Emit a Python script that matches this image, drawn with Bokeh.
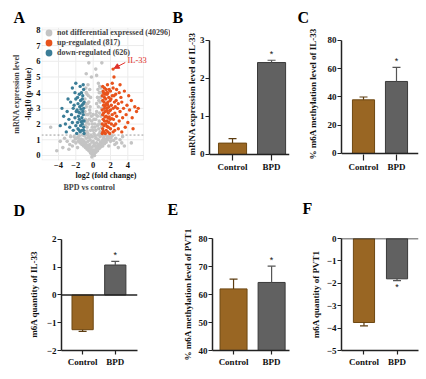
import math
from bokeh.plotting import figure
from bokeh.layouts import row, column
from bokeh.models import (Range1d, FixedTicker, Label, Legend, LegendItem, Span, Arrow, NormalHead,
                          BoxAnnotation, Title)
from bokeh.embed import file_html
from bokeh.resources import INLINE

FONT = "Liberation Serif"

# ---------------- Panel A data (volcano) ----------------
ns_pts = [(-0.1,0.05),(0.1,0.1),(0.0,0.2),(-0.3,0.15),(0.3,0.2),(-0.5,0.3),(0.5,0.3),(-0.7,0.4),(0.7,0.45),
          (-0.9,0.5),(0.9,0.55),(-1.1,0.6),(1.1,0.6),(-1.3,0.7),(1.3,0.75),(-1.5,0.8),(1.5,0.85),(-1.7,0.9),
          (1.7,1.0),(-1.9,1.1),(1.9,1.15),(-2.2,1.2),(2.2,1.25),(-0.2,0.5),(0.2,0.6),(-0.4,0.7),(0.4,0.8),
          (-0.6,0.9),(0.6,1.0),(-0.8,1.1),(0.8,1.2),(0.0,0.9),(-0.1,1.2),(0.1,1.4),(-1.2,1.0),(1.2,1.1),
          (-1.6,1.25),(1.6,1.2),(-2.6,1.2),(2.6,1.1),(-3.0,0.9),(3.1,1.0),(-2.4,0.6),(2.5,0.7),(-3.5,0.5),
          (3.6,0.6),(-4.2,0.3),(4.4,0.8),(-4.9,1.8),(-0.15,-0.1),(0.15,0.0),(0.05,0.35),(-0.25,0.35),
          (0.35,0.45),(-0.45,0.55),(0.45,0.6),(-0.65,0.65),(0.65,0.7),(-0.85,0.8),(0.85,0.85),(-1.05,0.9),
          (1.05,0.95),(-1.4,1.05),(1.4,1.0),(-2.0,0.8),(2.0,0.9),(-2.8,0.4),(2.9,0.5),(-1.8,0.5),(1.8,0.6),
          (-3.3,1.1),(3.4,1.2),(0.0,0.6),(-0.35,1.0),(0.3,1.1),(-0.55,1.2),(0.55,1.3),(-0.75,1.35),(0.75,1.4),
          (-0.9,1.5),(-0.7,1.8),(-0.5,2.0),(-0.9,2.3),(-0.6,2.6),(-0.4,2.9),(-0.8,3.1),(-0.5,3.4),(-0.3,3.7),
          (-0.7,3.9),(-0.4,4.2),(-0.6,4.5),(-0.95,2.8),(-0.95,3.6),(-0.2,2.5),(-0.3,1.6),(-0.6,1.4),(-0.8,4.0),
          (-0.9,1.9),(-0.75,2.1),(-0.45,2.3),(-0.85,2.6),(-0.65,3.3),(-0.9,3.3),(-0.55,3.8),(-0.85,4.3),
          (-0.35,3.1),(-0.7,1.55),(0.3,1.6),(0.5,1.9),(0.7,2.2),(0.9,2.5),(0.4,2.8),(0.6,3.1),(0.8,3.4),
          (0.5,3.7),(0.7,4.0),(0.9,4.3),(0.6,4.6),(0.95,3.0),(0.95,1.8),(0.3,2.3),(0.4,3.3),(0.8,1.5),
          (0.2,2.0),(0.55,4.2),(0.65,1.7),(0.85,2.0),(0.75,2.7),(0.5,2.5),(0.85,3.7),(0.65,3.5),(0.9,4.0),
          (0.75,4.4),(0.0,1.6),(-0.1,2.0),(0.1,2.3),(0.0,2.6),(-0.1,1.8),(-0.5,5.9),(0.3,5.5),(-0.8,5.2),
          (1.0,5.9),(-0.2,5.0),(0.4,5.1),
          (-0.05,0.15),(0.25,0.3),(-0.35,0.25),(0.55,0.5),(-0.55,0.45),(0.75,0.6),(-0.75,0.55),(0.95,0.75),
          (-0.95,0.7),(1.15,0.85),(-1.15,0.8),(1.35,0.95),(-1.35,0.9),(1.55,1.05),(-1.55,1.0),(1.75,1.2),
          (-1.75,1.15),(2.05,1.1),(-2.05,1.05),(2.35,0.95),(-2.3,0.9),(0.15,0.75),(-0.15,0.85),(0.45,1.05),
          (-0.45,1.15),(0.25,1.25),(-0.25,1.3),(1.0,1.3),(-1.0,1.25),(1.25,1.25),(-1.25,1.3),(2.7,0.8),
          (-2.7,0.7),(3.3,0.8),(-3.8,0.9),(0.65,2.0),(-0.65,2.2),(0.35,2.6),(-0.35,2.7),(0.2,1.8),(-0.2,2.2)]
up_pts = [(1.05,1.4),(1.1,1.7),(1.05,2.0),(1.15,2.3),(1.1,2.6),(1.05,2.9),(1.2,3.2),(1.1,3.5),(1.05,3.8),
          (1.15,4.1),(1.1,4.4),(1.2,1.5),(1.25,1.9),(1.3,2.2),(1.2,2.7),(1.3,3.0),(1.25,3.4),(1.3,3.7),
          (1.2,4.0),(1.3,4.3),(1.4,1.4),(1.5,1.6),(1.45,2.0),(1.6,2.2),(1.5,2.5),(1.4,2.8),(1.6,3.0),
          (1.5,3.3),(1.45,3.6),(1.6,3.9),(1.5,4.2),(1.7,1.5),(1.75,1.8),(1.8,2.1),(1.7,2.4),(1.75,2.7),
          (1.8,3.1),(1.7,3.4),(1.8,3.7),(1.7,4.0),(1.65,4.5),(1.9,1.4),(2.0,1.7),(2.1,2.0),(1.95,2.3),
          (2.2,2.6),(2.0,2.9),(2.1,3.2),(1.95,3.5),(2.2,3.8),(2.0,4.1),(2.3,1.5),(2.4,1.9),(2.35,2.3),
          (2.5,2.7),(2.3,3.0),(2.45,3.4),(2.4,3.8),(2.3,4.3),(2.5,1.6),(2.2,4.6),(2.4,5.0),(2.6,2.0),
          (2.7,2.5),(2.8,3.0),(2.65,3.5),(2.9,1.7),(3.0,2.2),(3.1,2.8),(2.9,3.3),(3.2,3.7),(3.0,4.0),
          (3.3,1.5),(3.4,2.4),(3.5,3.0),(3.3,3.4),(2.7,4.2),(3.1,4.5),(3.7,1.8),(3.8,2.6),(3.9,3.2),
          (4.0,2.1),(4.2,2.9),(4.4,3.5),(4.5,2.4),(4.8,3.1),(5.0,2.8),(4.1,3.8),(3.6,4.1),(4.6,1.7),(5.2,3.0),
          (1.15,1.55),(1.35,2.45),(1.55,2.85),(1.4,3.15),(1.65,3.25),(1.35,3.9),(1.55,4.0),(1.85,2.45),
          (1.9,2.85),(2.05,3.6),(1.85,4.2),(1.6,1.85),(2.15,2.35),(2.55,3.1),(2.6,3.9)]
down_pts = [(-1.05,1.4),(-1.1,1.8),(-1.05,2.2),(-1.15,2.6),(-1.1,3.0),(-1.05,3.4),(-1.2,3.8),(-1.1,4.2),
            (-1.3,1.6),(-1.25,2.0),(-1.3,2.4),(-1.2,2.8),(-1.3,3.2),(-1.25,3.6),(-1.35,4.0),(-1.5,1.5),
            (-1.45,1.9),(-1.6,2.3),(-1.5,2.7),(-1.55,3.1),(-1.45,3.5),(-1.6,3.9),(-1.5,4.4),(-1.75,1.7),
            (-1.8,2.1),(-1.7,2.5),(-1.85,2.9),(-1.75,3.3),(-1.8,3.7),(-1.9,1.4),(-2.0,1.9),(-2.1,2.4),
            (-1.95,2.8),(-2.2,3.2),(-2.0,3.6),(-2.1,4.0),(-2.3,1.6),(-2.4,2.1),(-2.5,2.6),(-2.3,3.0),
            (-2.6,3.4),(-2.4,4.3),(-2.7,1.8),(-2.8,2.3),(-3.0,2.8),(-2.9,3.6),(-3.2,2.0),(-3.4,2.5),
            (-3.1,1.5),(-3.6,3.0),(-2.0,4.6),(-3.8,1.9),(-1.15,4.5),(-1.1,1.6),(-1.2,2.2),(-1.15,3.3),
            (-1.4,2.15),(-1.4,2.95),(-1.65,2.75),(-1.6,1.6)]
il33_x = [2.3]
il33_y = [5.5]
volcano_labels = ["not differential expressed (40296)", "up-regulated (817)", "down-regulated (626)"]
volcano_xticks = [-4, -2, 0, 2, 4]
volcano_yticks = [0, 1, 2, 3, 4, 5, 6, 7, 8]
p_threshold = 1.3

# ---------------- Bar panels data ----------------
groups = ["Control", "BPD"]
b_mean = [0.30, 2.42]; b_err = [0.12, 0.06]; b_sig = ["", "*"]
c_mean = [38.0, 51.0]; c_err = [2.0, 10.0]; c_sig = ["", "*"]
d_mean = [-1.25, 1.08]; d_err = [0.06, 0.13]; d_sig = ["", "*"]
e_mean = [62.0, 64.3]; e_err = [3.5, 5.8]; e_sig = ["", "*"]
f_mean = [-3.75, -1.80]; f_err = [0.15, 0.08]; f_sig = ["", "*"]
b_ticks = [0, 1, 2, 3]
c_ticks = [0, 20, 40, 60, 80]
d_ticks = [-2, -1, 0, 1, 2]
e_ticks = [40, 50, 60, 70, 80]
f_ticks = [-5, -4, -3, -2, -1, 0]

BAR_FILL = ["#996623", "#616161"]
BAR_LINE = ["#6e4812", "#3a3a3a"]
ERR_COL = ["#5c3c10", "#555555"]
AX_COL = "#222222"

# every figure of a row shares frame top / bottom (Bokeh aligns them)
ROW1_H, ROW1_TOP, ROW1_BOT = 195, 27, 35      # frame y 27..160
ROW2_H, ROW2_TOP, ROW2_BOT = 174, 43, 17      # frame y 238..352


def style_text_axis(ax, tick_size="9px", label_size="9.5px"):
    ax.major_label_text_font = FONT
    ax.major_label_text_font_style = "bold"
    ax.major_label_text_font_size = tick_size
    ax.major_label_text_color = "#111111"
    ax.axis_label_text_font = FONT
    ax.axis_label_text_font_style = "bold"
    ax.axis_label_text_font_size = label_size
    ax.axis_label_text_color = "#111111"


def add_letter(p, text, offset, spacer=None, standoff=3):
    if spacer is not None:
        p.add_layout(Title(text=" ", text_font_size="1px", standoff=spacer), "above")
        standoff = 0
    p.add_layout(Title(text=text, align="left", offset=offset, standoff=standoff, vertical_align="bottom",
                       text_font=FONT, text_font_style="bold", text_font_size="16px",
                       text_color="#000000"), "above")


# ---------------- Panel A ----------------
BOX_X0, BOX_X1 = -5.96, 5.80
BOX_Y0, BOX_Y1 = -0.32, 8.13
pA = figure(width=170, height=ROW1_H, x_range=Range1d(-5.96, 8.92), y_range=Range1d(-0.32, 8.15),
            output_backend="svg", toolbar_location=None, title_location=None,
            min_border_left=41, min_border_right=0, min_border_top=ROW1_TOP, min_border_bottom=ROW1_BOT)
pA.outline_line_color = None
pA.grid.visible = False
pA.xaxis.ticker = FixedTicker(ticks=volcano_xticks)
pA.yaxis.ticker = FixedTicker(ticks=volcano_yticks)
for ax in (pA.xaxis[0], pA.yaxis[0]):
    style_text_axis(ax, tick_size="8.5px", label_size="8px")
    ax.axis_line_color = None
    ax.major_tick_line_color = None
    ax.major_tick_out = 0
    ax.major_tick_in = 0
    ax.minor_tick_line_color = None
    ax.major_label_standoff = 1
    ax.axis_label_standoff = 0
pA.xaxis.bounds = (BOX_X0, BOX_X1)
pA.xaxis.axis_label = "log2 (fold change)"
pA.yaxis.axis_label = "-log10 (p value)"

pA.segment(x0=[BOX_X0] * len(volcano_yticks), x1=[BOX_X1] * len(volcano_yticks),
           y0=volcano_yticks, y1=volcano_yticks, line_color="#ececec", line_width=1)
pA.segment(x0=volcano_xticks, x1=volcano_xticks, y0=[BOX_Y0] * len(volcano_xticks),
           y1=[BOX_Y1] * len(volcano_xticks), line_color="#ececec", line_width=1)
pA.segment(x0=[BOX_X0], x1=[BOX_X1], y0=[p_threshold], y1=[p_threshold],
           line_color="#9a9a9a", line_dash="2 2", line_width=1)
pA.add_layout(BoxAnnotation(left=BOX_X0 + 0.05, right=BOX_X1, bottom=BOX_Y0 + 0.03, top=BOX_Y1,
                            fill_alpha=0, line_color="#cfcfcf", line_width=1))

ns_x, ns_y = zip(*ns_pts)
up_x, up_y = zip(*up_pts)
dn_x, dn_y = zip(*down_pts)
r_ns = pA.scatter(list(ns_x), list(ns_y), size=3.6, fill_color="#c4c4c4", line_color=None)
r_up = pA.scatter(list(up_x) + il33_x, list(up_y) + il33_y, size=3.4, fill_color="#e8531c", line_color=None)
r_dn = pA.scatter(list(dn_x), list(dn_y), size=3.4, fill_color="#3b7d97", line_color=None)

# one legend per entry; frame bottom at y=160, wanted entry centres 32, 42, 52
for lab, rend, cy in zip(volcano_labels, (r_ns, r_up, r_dn), (32, 42, 52)):
    pA.add_layout(Legend(items=[LegendItem(label=lab, renderers=[rend])],
                         location=(-1, 151.5 - cy), padding=0, margin=0, spacing=0,
                         glyph_width=17, glyph_height=17, label_height=17, label_standoff=-2,
                         label_text_font=FONT, label_text_font_style="bold", label_text_font_size="8px",
                         background_fill_alpha=0, border_line_color=None))

RED = "#e0302a"
pA.add_layout(Arrow(end=NormalHead(size=5, fill_color=RED, line_color=RED), line_color=RED, line_width=1,
                    x_start=il33_x[0] + 1.4, y_start=il33_y[0] + 0.42,
                    x_end=il33_x[0] + 0.12, y_end=il33_y[0] + 0.05))
pA.add_layout(Label(x=il33_x[0] + 1.65, y=il33_y[0] + 0.6, text="IL-33", text_color=RED, text_font=FONT,
                    text_font_size="8.5px", text_baseline="middle"))

pA.add_layout(Title(text="mRNA expression level", align="center", standoff=1, text_font=FONT,
                    text_font_style="bold", text_font_size="8px"), "left")
pA.add_layout(Title(text="BPD vs control", align="left", offset=22, standoff=0, vertical_align="top",
                    text_font=FONT, text_font_style="bold", text_font_size="8px"), "below")
add_letter(pA, "A", -28, spacer=None, standoff=3)


# ---------------- Bar panel builder ----------------
def bar_panel(w, h, bl, br, bt, bb, xr, yr, ybounds, yticks, means, errs, sig, ytitle, bw, let, loff,
              spacer=None, zero_line=False, baseline=False, title_standoff=4):
    p = figure(width=w, height=h, x_range=Range1d(*xr), y_range=Range1d(*yr),
               output_backend="svg", toolbar_location=None, title_location=None,
               min_border_left=bl, min_border_right=br, min_border_top=bt, min_border_bottom=bb)
    p.outline_line_color = None
    p.grid.visible = False
    xs = [i + 0.5 for i in range(len(groups))]
    if zero_line or baseline:
        p.add_layout(Span(location=0, dimension="width", line_color=AX_COL, line_width=1.5))
    p.vbar(x=xs, top=means, bottom=0, width=bw, fill_color=BAR_FILL, line_color=BAR_LINE, line_width=1)
    tips = [m + (e if m >= 0 else -e) for m, e in zip(means, errs)]
    p.segment(x0=xs, y0=means, x1=xs, y1=tips, line_color=ERR_COL, line_width=1.2)
    p.scatter(x=xs, y=tips, marker="dash", size=8, line_color=ERR_COL, line_width=1.2)
    pad = 0.015 * (ybounds[1] - ybounds[0])
    for i in range(len(groups)):
        if sig[i]:
            up = means[i] >= 0
            p.text(x=[xs[i]], y=[tips[i] + (pad if up else -pad)], text=[sig[i]],
                   text_align="center", text_baseline="bottom" if up else "top",
                   text_font_size="9px", text_color="#111111")
    p.yaxis.ticker = FixedTicker(ticks=yticks)
    p.yaxis.bounds = ybounds
    p.xaxis.ticker = FixedTicker(ticks=xs)
    p.xaxis.major_label_overrides = {x: g for x, g in zip(xs, groups)}
    for ax in (p.xaxis[0], p.yaxis[0]):
        style_text_axis(ax)
        ax.axis_line_color = AX_COL
        ax.axis_line_width = 1.5
        ax.major_tick_line_color = AX_COL
        ax.major_tick_line_width = 1.2
        ax.major_tick_out = 4
        ax.major_tick_in = 0
        ax.minor_tick_line_color = None
    if baseline:
        # x axis sits at the frame bottom, just under the zero baseline
        p.xaxis.axis_line_color = None
        p.xaxis.major_tick_out = 0
        p.xaxis.major_tick_in = 6
        p.xaxis.major_label_standoff = 1
    else:
        p.xaxis.major_label_standoff = 2
    p.xaxis.major_label_text_font_size = "9px"
    p.yaxis.major_label_standoff = 1
    p.yaxis.axis_label = ytitle
    p.yaxis.axis_label_text_font_size = "9px"
    p.yaxis.axis_label_standoff = title_standoff
    add_letter(p, let, loff, spacer=spacer)
    return p


# row 1: frame y 27..160; B: 0 -> 154, 3 -> 40 ; C: 0 -> 153, 80 -> 40
pB = bar_panel(120, ROW1_H, 39, 1, ROW1_TOP, ROW1_BOT, (-0.09, 1.96), (-0.158, 3.342), (0, 3), b_ticks,
               b_mean, b_err, b_sig, "mRNA expression level of IL-33", 0.72, "B", -37,
               baseline=True, title_standoff=0)
pC = bar_panel(136, ROW1_H, 51, 8, ROW1_TOP, ROW1_BOT, (-0.167, 2.167), (-4.96, 89.2), (0, 80), c_ticks,
               c_mean, c_err, c_sig, "% m6A methylation level of IL-33", 0.67, "C", -44,
               baseline=True, title_standoff=7)
# row 2: frame y 238..352
pD = bar_panel(160, ROW2_H, 61, 23, ROW2_TOP, ROW2_BOT, (-0.146, 2.18), (-2, 2.035), (-2, 2), d_ticks,
               d_mean, d_err, d_sig, "m6A quantity of IL-33", 0.65, "D", -48, spacer=17,
               zero_line=True, title_standoff=5)
pE = bar_panel(130, ROW2_H, 52, 1, ROW2_TOP, ROW2_BOT, (-0.053, 1.97), (40, 80), (40, 80), e_ticks,
               e_mean, e_err, e_sig, "% m6A methylation level of PVT1", 0.71, "E", -45, spacer=18,
               title_standoff=3)
pF = bar_panel(136, ROW2_H, 51, 8, ROW2_TOP, ROW2_BOT, (-0.18, 2.15), (-5, 0), (-5, 0), f_ticks,
               f_mean, f_err, f_sig, "m6A quantity of PVT1", 0.64, "F", -39, spacer=19,
               zero_line=True, title_standoff=3)

layout = column(row(pA, pB, pC, spacing=0), row(pD, pE, pF, spacing=0), spacing=0)
open("out.html", "w").write(file_html(layout, INLINE))
